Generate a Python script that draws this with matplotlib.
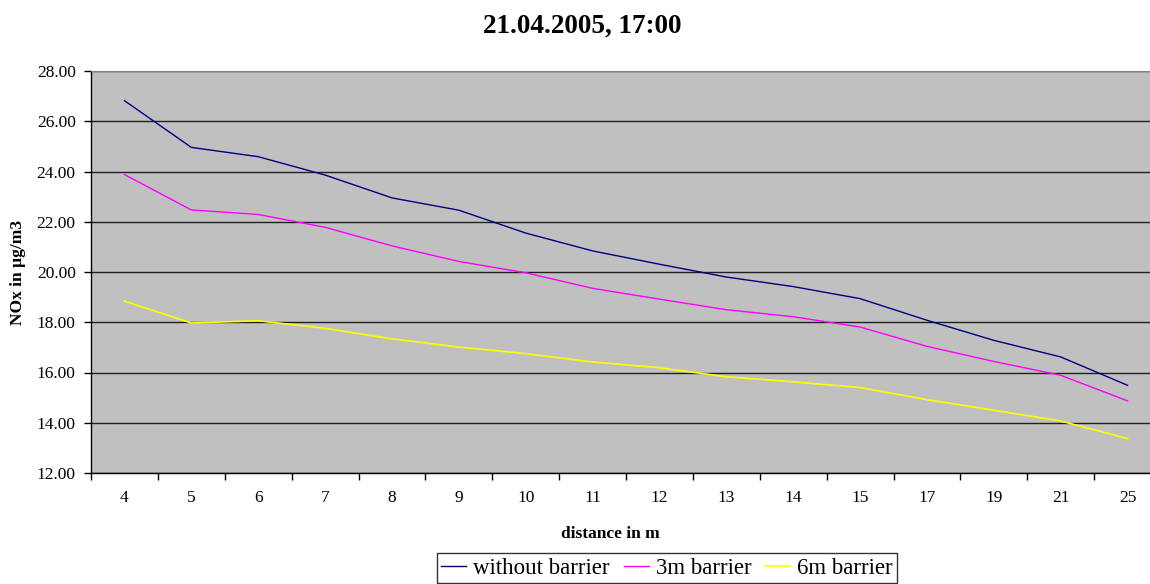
import numpy as np
import matplotlib
matplotlib.use("Agg")
import matplotlib.pyplot as plt
from matplotlib.ticker import FixedLocator, NullFormatter, FixedFormatter

plt.rcParams['font.family'] = ['Liberation Serif', 'DejaVu Serif']

# distances (categories) and NOx values
distances = ['4', '5', '6', '7', '8', '9', '10', '11', '12', '13', '14', '15', '17', '19', '21', '25']
no_barrier = [26.82, 24.96, 24.59, 23.86, 22.95, 22.46, 21.55, 20.84, 20.31, 19.80, 19.42, 18.94, 18.08, 17.28, 16.62, 15.49]
barrier_3m = [23.88, 22.47, 22.29, 21.78, 21.04, 20.42, 19.97, 19.35, 18.92, 18.50, 18.22, 17.81, 17.04, 16.44, 15.89, 14.87]
barrier_6m = [18.84, 17.97, 18.06, 17.76, 17.34, 17.01, 16.75, 16.42, 16.19, 15.83, 15.63, 15.40, 14.92, 14.50, 14.07, 13.37]

W, H = 1150, 584
fig = plt.figure(figsize=(W / 100, H / 100), dpi=100)
ax = fig.add_axes([91 / W, 1 - 473 / H, 1070 / W, 402 / H])
ax.set_facecolor('#c0c0c0')

x = np.arange(len(distances))
l1, = ax.plot(x, no_barrier, color='#000080', lw=1.0)
l2, = ax.plot(x, barrier_3m, color='#ff00ff', lw=1.0)
l3, = ax.plot(x, barrier_6m, color='#ffff00', lw=1.2)

ax.set_xlim(-0.5, len(distances) - 0.5)
ax.set_ylim(12, 28)

# category labels at centers, tick marks between categories
ax.xaxis.set_major_locator(FixedLocator(np.arange(-0.5, len(distances), 1.0)))
ax.xaxis.set_major_formatter(NullFormatter())
ax.xaxis.set_minor_locator(FixedLocator(x))
ax.xaxis.set_minor_formatter(FixedFormatter(distances))
ax.tick_params(axis='x', which='major', direction='out', length=5, width=1, color='black')
ax.tick_params(axis='x', which='minor', length=0, pad=12, labelsize=12.5)

yt = np.arange(12, 28.1, 2)
ax.set_yticks(yt)
ax.set_yticklabels(['%.2f' % v for v in yt])
ax.tick_params(axis='y', direction='out', length=5, width=1, pad=6, labelsize=12.5)

ax.grid(axis='y', color='#202020', lw=1.0)
ax.set_axisbelow(True)

for s in ['top', 'right']:
    ax.spines[s].set_color('#808080')
for s in ['left', 'bottom']:
    ax.spines[s].set_color('black')
    ax.spines[s].set_linewidth(1.0)

fig.text(582 / W, 1 - 33 / H, '21.04.2005, 17:00', ha='center', va='baseline',
         fontsize=19.5, fontweight='bold')
fig.text(610 / W, 1 - 538 / H, 'distance in m', ha='center', va='baseline',
         fontsize=12.5, fontweight='bold')
fig.text(18 / W, 1 - 272 / H, 'NOx in µg/m3', ha='center', va='center',
         rotation=90, fontsize=12.5, fontweight='bold')

leg = fig.legend([l1, l2, l3], ['without barrier', '3m barrier', '6m barrier'],
                 loc='center', bbox_to_anchor=(667 / W, 1 - 568 / H), ncol=3,
                 fontsize=16.5, frameon=True, fancybox=False, shadow=False,
                 handlelength=1.1, handletextpad=0.3, columnspacing=0.6,
                 borderpad=0.2, borderaxespad=0)
leg.get_frame().set_edgecolor('black')
leg.get_frame().set_linewidth(1.0)

fig.savefig('out.png', dpi=100)
